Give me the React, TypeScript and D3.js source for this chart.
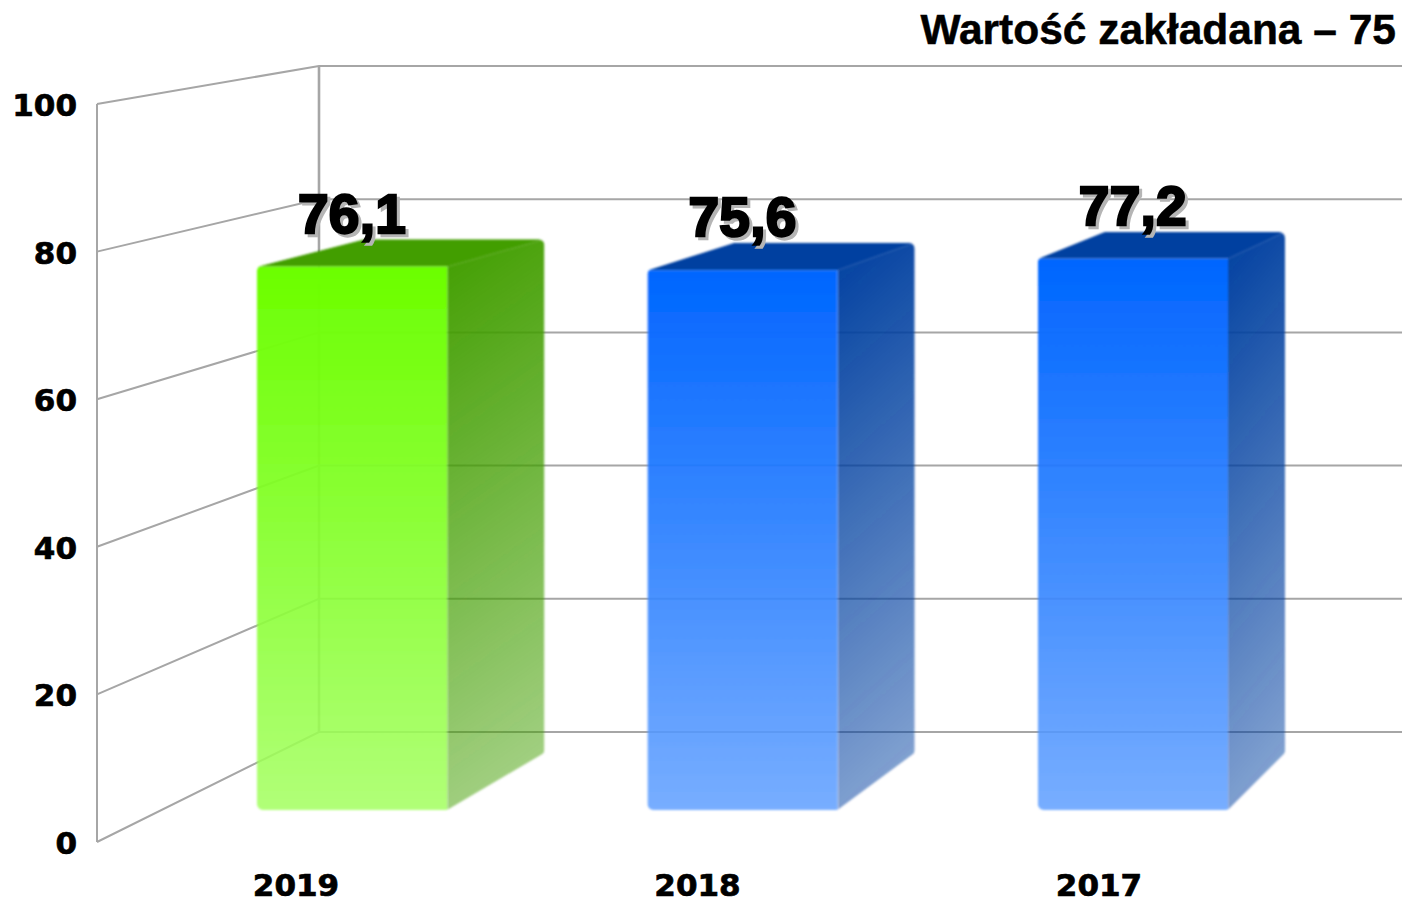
import * as d3 from "d3";

const years = ["2019", "2018", "2017"];
const values = [76.1, 75.6, 77.2];
const valueLabels = ["76,1", "75,6", "77,2"];
const barHues = ["green", "blue", "blue"];
const yTicks = [0, 20, 40, 60, 80, 100];
const title = "Wartość zakładana – 75";

const palette: Record<string, { front: string; side: string }> = {
    green: { front: "#6cff00", side: "#429e00" },
    blue: { front: "#0066ff", side: "#0040a0" },
};

const width = 1402;
const height = 901;

// the two walls of the 3d box
const wallFront = d3.scaleLinear().domain([0, 100]).range([842, 104]);
const wallBack = d3.scaleLinear().domain([0, 100]).range([732, 66]);
const wallLeft = 97;
const wallRight = 319;

// bars stand inside the box, so they get their own y scales
const barFront = d3.scaleLinear().domain([0, 100]).range([810, 96]);
const barBack = d3.scaleLinear().domain([0, 100]).range([753, 78]);

const scaleX = d3.scaleBand().domain(years).range([257, 1228]).paddingInner(0.5128).paddingOuter(0);
const labelX = d3.scalePoint().domain(years).range([296, 1099]);

// how far a point moves sideways going to the back (perspective)
const depth = (x: number) => 0.0515 * (2335 - x);

const line = d3.line();

// closed outline with rounded corners, used as the clip of one whole bar
const rounded = (pts: [number, number][], r: number) => {
    const p = d3.path();
    const n = pts.length;
    const a = pts[n - 1];
    const b = pts[0];
    p.moveTo((a[0] + b[0]) / 2, (a[1] + b[1]) / 2);
    pts.forEach((pt, i) => {
        const next = pts[(i + 1) % n];
        p.arcTo(pt[0], pt[1], next[0], next[1], r);
    });
    p.closePath();
    return p.toString();
};

const App = () => {
    const bw = scaleX.bandwidth();

    return (
        <svg width={width} height={height} style={{ position: "absolute", left: 0, top: 0, background: "#fff" }}>
            <defs>
                <filter id="soft" x="-5%" y="-5%" width="110%" height="110%">
                    <feGaussianBlur stdDeviation="1.1" />
                </filter>
                {Object.keys(palette).map((k) => (
                    <g key={k}>
                        <linearGradient id={`front-${k}`} x1="0" y1="0" x2="0" y2="1">
                            <stop offset="0" stopColor={palette[k].front} stopOpacity={1} />
                            <stop offset="1" stopColor={palette[k].front} stopOpacity={0.53} />
                        </linearGradient>
                        <linearGradient id={`side-${k}`} x1="0" y1="0" x2="0.12" y2="1">
                            <stop offset="0" stopColor={palette[k].side} stopOpacity={1} />
                            <stop offset="1" stopColor={palette[k].side} stopOpacity={0.5} />
                        </linearGradient>
                    </g>
                ))}
                {years.map((year, i) => {
                    const x0 = scaleX(year) as number;
                    const x1 = x0 + bw;
                    const top = barFront(values[i]);
                    const bottom = barFront(0);
                    const backTop = barBack(values[i]);
                    const backBottom = barBack(0);
                    return (
                        <clipPath id={`clip-${year}`} key={year}>
                            <path
                                d={rounded(
                                    [
                                        [x0, top],
                                        [x0 + depth(x0), backTop],
                                        [x1 + depth(x1), backTop],
                                        [x1 + depth(x1), backBottom],
                                        [x1, bottom],
                                        [x0, bottom],
                                    ],
                                    6
                                )}
                            />
                        </clipPath>
                    );
                })}
            </defs>

            <text
                x={1396}
                y={44}
                textAnchor="end"
                fontFamily="Liberation Sans"
                fontWeight="bold"
                fontSize={42.5}
                stroke="#000"
                strokeWidth={0.5}
            >
                {title}
            </text>

            {/* walls */}
            <g fill="none" stroke="#a6a6a6" strokeWidth={2}>
                {yTicks.map((t) => (
                    <path key={t} d={line([[wallLeft, wallFront(t)], [wallRight, wallBack(t)], [width, wallBack(t)]]) as string} />
                ))}
                <path d={line([[wallLeft, wallFront(0)], [wallLeft, wallFront(100)]]) as string} />
                <path d={line([[wallRight, wallBack(0)], [wallRight, wallBack(100)]]) as string} strokeWidth={2.6} />
            </g>

            {/* bars */}
            {years.map((year, i) => {
                const x0 = scaleX(year) as number;
                const x1 = x0 + bw;
                const top = barFront(values[i]);
                const bottom = barFront(0);
                const backTop = barBack(values[i]);
                const backBottom = barBack(0);
                const hue = barHues[i];
                return (
                    <g key={year} filter="url(#soft)">
                        <g clipPath={`url(#clip-${year})`}>
                            <path
                                d={line([[x1, top], [x1 + depth(x1), backTop], [x1 + depth(x1), backBottom], [x1, bottom]]) + "Z"}
                                fill={`url(#side-${hue})`}
                            />
                            <path
                                d={line([[x0, top], [x0 + depth(x0), backTop], [x1 + depth(x1), backTop], [x1, top]]) + "Z"}
                                fill={palette[hue].side}
                            />
                            {/* white underlay washes out the grid seen through the front */}
                            <rect x={x0} y={top} width={bw} height={bottom - top} fill="#fff" fillOpacity={0.7} />
                            <rect x={x0} y={top} width={bw} height={bottom - top} fill={`url(#front-${hue})`} />
                        </g>
                    </g>
                );
            })}

            {/* value labels, shadow copy goes first */}
            {years.map((year, i) => {
                const cx = (scaleX(year) as number) + bw / 2;
                const y = barFront(values[i]) - 34;
                const common = {
                    textAnchor: "middle" as const,
                    fontFamily: "Liberation Sans",
                    fontWeight: "bold",
                    fontSize: 55,
                    strokeWidth: 2.4,
                    letterSpacing: 0.3,
                };
                return (
                    <g key={year}>
                        <text x={cx + 3} y={y + 3} fill="#b5b5b5" stroke="#b5b5b5" {...common}>
                            {valueLabels[i]}
                        </text>
                        <text x={cx} y={y} fill="#000" stroke="#000" {...common}>
                            {valueLabels[i]}
                        </text>
                    </g>
                );
            })}

            {/* axis labels */}
            <g fontFamily="DejaVu Sans" fontWeight="bold" fontSize={31} fill="#000" stroke="#000" strokeWidth={0.7}>
                {yTicks.map((t) => (
                    <text key={t} x={77} y={wallFront(t) + 12} textAnchor="end">
                        {t}
                    </text>
                ))}
                {years.map((year) => (
                    <text key={year} x={labelX(year)} y={896} textAnchor="middle">
                        {year}
                    </text>
                ))}
            </g>
        </svg>
    );
};

export default App;
